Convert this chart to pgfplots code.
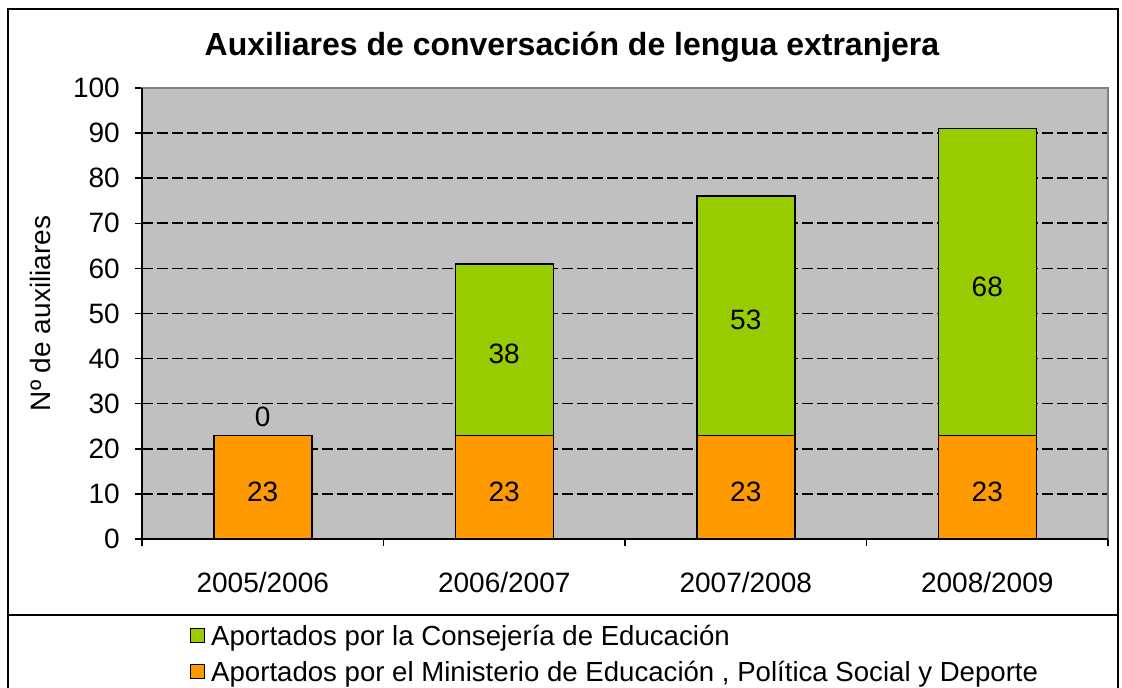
\documentclass[border=0pt]{standalone}
\usepackage{pgfplots}
\pgfplotsset{compat=1.18}
\usepackage{fontspec}
\setmainfont{Liberation Sans}
\definecolor{plotgray}{HTML}{C0C0C0}
\definecolor{framegray}{HTML}{808080}
\definecolor{barorange}{HTML}{FF9900}
\definecolor{bargreen}{HTML}{99CC00}
\tikzset{lbl/.style={font=\fontsize{28}{32}\selectfont, anchor=center}}
\begin{document}
\begin{tikzpicture}[x=1pt,y=1pt]
\useasboundingbox (0,0) rectangle (1122,688);
\begin{scope}
\clip (0,0) rectangle (1122,688);
\draw[line width=2pt] (8,-10) rectangle (1118,679);
\draw[line width=2pt] (8,73) -- (1118,73);
\end{scope}
\node[font=\fontsize{32}{36}\selectfont\bfseries] at (572,641) {Auxiliares de conversación de lengua extranjera};
\begin{axis}[
  at={(142pt,149pt)}, anchor=south west,
  scale only axis, width=966pt, height=451pt,
  xmin=-0.5, xmax=3.5, ymin=0, ymax=100,
  ybar stacked, bar width=98pt,
  axis background/.style={fill=plotgray},
  axis line style={draw=framegray, line width=2pt},
  ytick={0,10,...,100},
  xtick={0,1,2,3},
  xticklabels={2005/2006,2006/2007,2007/2008,2008/2009},
  minor xtick={-0.5,0.5,1.5,2.5,3.5},
  xtick pos=bottom, ytick pos=left,
  major x tick style={draw=none},
  tick align=outside,
  major tick length=7pt, minor tick length=7pt,
  tick style={black, line width=1.5pt},
  ymajorgrids,
  major grid style={black, line width=1.6pt, dash pattern=on 11pt off 4pt},
  /pgf/number format/assume math mode=true,
  ticklabel style={font=\fontsize{28}{32}\selectfont},
  yticklabel style={inner sep=0pt, xshift=-15pt},
  xticklabel style={inner sep=0pt, anchor=north, yshift=-26pt},
  ylabel={Nº de auxiliares},
  ylabel style={at={(axis description cs:-0.105,0.5)}, anchor=center, font=\fontsize{28}{32}\selectfont},
  reverse legend,
  legend style={at={(axis description cs:0.0497,-0.186)}, anchor=north west, draw=none, fill=none,
    font=\fontsize{27.6}{32}\selectfont, row sep=10pt, inner sep=0pt},
  legend cell align=left,
  legend image code/.code={\draw[#1, draw=black, line width=1pt] (0pt,-7pt) rectangle (14pt,7pt);},
]
\addplot[fill=barorange, draw=black, line width=1.5pt] coordinates {(0,23) (1,23) (2,23) (3,23)};
\addlegendentry{\hspace{4pt}Aportados por el Ministerio de Educación , Política Social y Deporte}
\addplot[fill=bargreen, draw=black, line width=1.5pt] coordinates {(0,0) (1,38) (2,53) (3,68)};
\addlegendentry{\hspace{4pt}Aportados por la Consejería de Educación}
\coordinate (A0) at (rel axis cs:0,0);
\coordinate (A1) at (rel axis cs:0,1);
\coordinate (B1) at (rel axis cs:1,0);
\coordinate (o1) at (axis cs:0,10.5);
\coordinate (o2) at (axis cs:1,10.5);
\coordinate (o3) at (axis cs:2,10.5);
\coordinate (o4) at (axis cs:3,10.5);
\coordinate (g1) at (axis cs:0,27);
\coordinate (g2) at (axis cs:1,41);
\coordinate (g3) at (axis cs:2,48.5);
\coordinate (g4) at (axis cs:3,56);
\end{axis}
\draw[black, line width=2pt] (A1) -- (A0) -- (B1);
\node[lbl] at (o1) {23};
\node[lbl] at (o2) {23};
\node[lbl] at (o3) {23};
\node[lbl] at (o4) {23};
\node[lbl] at (g1) {0};
\node[lbl] at (g2) {38};
\node[lbl] at (g3) {53};
\node[lbl] at (g4) {68};
\end{tikzpicture}
\end{document}
